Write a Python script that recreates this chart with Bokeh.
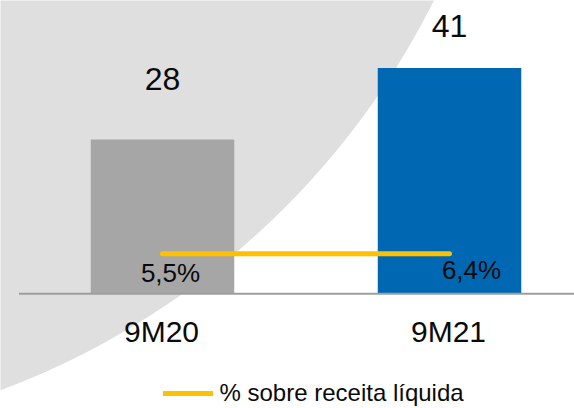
from bokeh.plotting import figure
from bokeh.models import Range1d, Legend, LegendItem
from bokeh.core.properties import value
from bokeh.embed import file_html
from bokeh.resources import INLINE

# ---- data ----
categories = ["9M20", "9M21"]
values = [28, 41]
value_labels = ["28", "41"]
pct = [5.5, 6.4]
pct_labels = ["5,5%", "6,4%"]
pct_line_level = [7.26, 7.26]
legend_label = "% sobre receita líquida"

# ---- style ----
FONT_NAME = "Liberation Sans"
FONT = value(FONT_NAME)
bar_colors = ["#A6A6A6", "#0068B3"]
line_color = "#FFC000"
bg_color = "#DFDFDF"
axis_color = "#9E9E9E"
text_color = "#0A0A0A"

xpos = list(range(len(categories)))

p = figure(width=574, height=408,
           x_range=Range1d(-0.5645, 1.4355), y_range=Range1d(-20.82, 53.23),
           output_backend="svg", toolbar_location=None,
           x_axis_location=None, y_axis_location=None, min_border=0)
p.grid.visible = False
p.outline_line_color = None
p.background_fill_color = "white"
p.border_fill_color = "white"

# decorative background arc (large circle)
p.scatter(x=[-1.53], y=[117.5], size=1588, marker="circle",
          fill_color=bg_color, line_color=None)

# bars
p.vbar(x=xpos, top=values, width=0.5, fill_color=bar_colors, line_color=None)

# baseline axis line across category bands
p.segment(x0=[xpos[0] - 0.5], y0=[0], x1=[xpos[-1] + 0.5], y1=[0],
          line_color=axis_color, line_width=2)

# value labels
p.text(x=xpos, y=values, text=value_labels, y_offset=[-61, -41.5],
       text_align="center", text_baseline="alphabetic",
       text_font=FONT, text_font_size="32px", text_color=text_color)

# category labels
p.text(x=xpos, y=[0, 0], text=categories, y_offset=37.5, x_offset=-1,
       text_align="center", text_baseline="alphabetic",
       text_font=FONT, text_font_size="30px", text_color=text_color)

# % line
line_r = p.line(x=xpos, y=pct_line_level, line_color=line_color, line_width=5,
                line_cap="round")

# % labels
p.text(x=xpos, y=[0, 0], text=pct_labels, x_offset=[8, 22], y_offset=[-21, -23.3],
       text_align="center", text_baseline="alphabetic",
       text_font=FONT, text_font_size="26px", text_color=text_color)

legend = Legend(items=[LegendItem(label=legend_label, renderers=[line_r])],
                location=(162.5, 1), orientation="horizontal",
                glyph_width=50, glyph_height=26, label_height=26,
                label_standoff=7, padding=0, margin=0, spacing=0,
                border_line_color=None, background_fill_alpha=0,
                label_text_font=FONT_NAME, label_text_font_size="24px",
                label_text_color=text_color)
p.add_layout(legend, "center")

open("out.html", "w").write(file_html(p, INLINE))
